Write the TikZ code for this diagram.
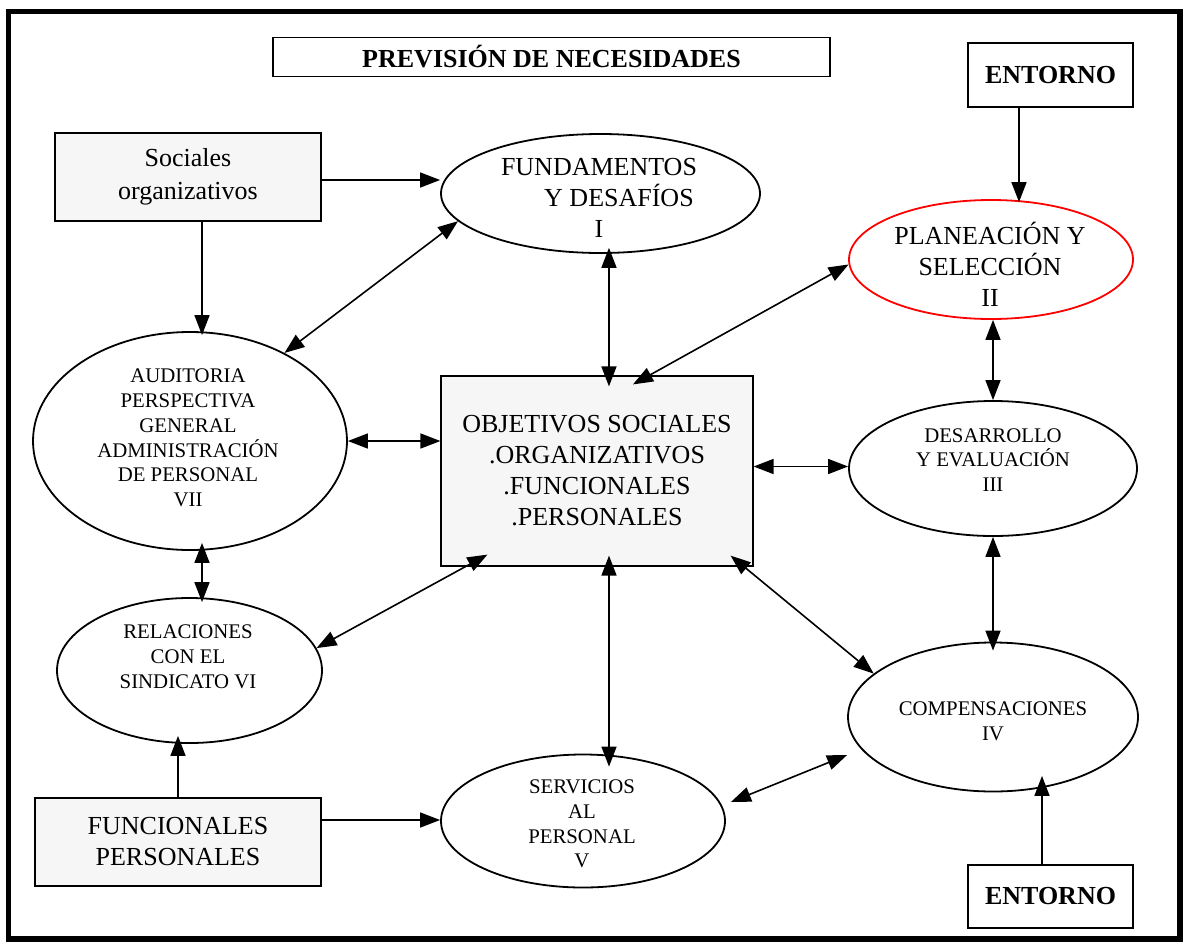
\documentclass[tikz,border=0pt]{standalone}
\usepackage{fontspec}
\setmainfont{Liberation Serif}
\usetikzlibrary{shapes.geometric,arrows.meta,calc}

\tikzset{
  box/.style={draw, line width=1.2pt, inner sep=0pt, align=center},
  grey box/.style={box, fill=gray!7},
  oval/.style={ellipse, draw, line width=1.8pt, inner sep=0pt},
  ovaltext/.style={align=center, inner sep=0pt},
  big/.style={font=\fontsize{26}{31}\selectfont},
  small/.style={font=\fontsize{20.8}{24.8}\selectfont},
  link/.style={line width=1.6pt},
  tip/.tip={Triangle[length=20pt,width=15pt]},
  uni/.style={link, -tip},
  bi/.style={link, tip-tip}
}

\begin{document}
\begin{tikzpicture}[x=1pt, y=-1pt]
\useasboundingbox (0,0) rectangle (1186,943);

% outer frame
\draw[line width=5.5pt] (8.5,11.5) rectangle (1180,939);

% rectangular boxes
\node[box, big, minimum width=557pt, minimum height=39pt] (title) at (551.5,57)
  {\bfseries PREVISIÓN DE NECESIDADES};
\node[box, big, minimum width=165pt, minimum height=64pt] (entA) at (1050.5,75)
  {\bfseries ENTORNO};
\node[box, big, minimum width=165pt, minimum height=63pt] (entB) at (1050.5,896.5)
  {\bfseries ENTORNO};
\node[grey box, big, minimum width=266pt, minimum height=88pt] (soc) at (188,177)
  {Sociales\\[2pt]organizativos};
\node[grey box, big, minimum width=286pt, minimum height=88pt] (fun) at (178,842)
  {FUNCIONALES\\PERSONALES};
\node[grey box, big, minimum width=312pt, minimum height=190pt] (obj) at (597,471)
  {OBJETIVOS SOCIALES\\.ORGANIZATIVOS\\.FUNCIONALES\\.PERSONALES};

% elliptical stages
\node[oval, minimum width=319pt, minimum height=119pt] (fund) at (600.5,193.5) {};
\node[oval, draw=red, minimum width=284pt, minimum height=119pt] (plan) at (991,259.5) {};
\node[oval, minimum width=288pt, minimum height=135pt] (desa) at (993,468.5) {};
\node[oval, minimum width=290pt, minimum height=149pt] (comp) at (993,717) {};
\node[oval, minimum width=284pt, minimum height=133pt] (serv) at (583,821) {};
\node[oval, minimum width=314pt, minimum height=218pt] (aud) at (190,441) {};
\node[oval, minimum width=265pt, minimum height=145pt] (rel) at (189.5,670.5) {};

% stage labels
\node[ovaltext, big] (fundT) at (599,198) {FUNDAMENTOS\\\hspace*{40pt}Y DESAFÍOS\\I};
\node[ovaltext, big] (planT) at (990,264) {PLANEACIÓN Y\\SELECCIÓN\\II};
\node[ovaltext, small] (desaT) at (993,460) {DESARROLLO\\Y EVALUACIÓN\\III};
\node[ovaltext, small] (compT) at (993,721) {COMPENSACIONES\\IV};
\node[ovaltext, small] (servT) at (582,824) {SERVICIOS\\AL\\PERSONAL\\V};
\node[ovaltext, small] (audT) at (188,438) {AUDITORIA\\PERSPECTIVA\\GENERAL\\ADMINISTRACIÓN\\DE PERSONAL\\VII};
\node[ovaltext, small] (relT) at (188,657) {RELACIONES\\CON EL\\SINDICATO VI};

% connectors
\draw[uni] ([yshift=-3pt]soc.east) -- ([yshift=-3pt]soc.east -| fund.west);
\draw[uni] ([xshift=14pt]soc.south) -- ([xshift=14pt,yshift=-4pt]soc.south |- aud.north);
\draw[bi] (fund.191) -- (aud.43);
\draw[bi] ([yshift=6pt]fund.278) -- ([yshift=-11pt]obj.north -| fund.278);
\draw[bi] (plan.182) -- ([xshift=36pt,yshift=-9pt]obj.north);
\draw[uni] ([xshift=-31.5pt]entA.south) -- ([xshift=-31.5pt,yshift=-3pt]entA.south |- plan.north);
\draw[bi] (desa.north |- plan.south) -- (desa.north);
\draw[bi] ([yshift=4.5pt]obj.east) -- ([yshift=4.5pt]obj.east -| desa.west);
\draw[bi] (desa.south) -- ([yshift=-9pt]comp.north);
\draw[bi] ([xshift=-23pt,yshift=11pt]obj.south east) -- (comp.160);
\draw[bi] ([yshift=-38pt]comp.west) -- ([xshift=5pt,yshift=19pt]serv.east);
\draw[uni] ([xshift=-8.5pt]entB.north) -- ([xshift=-8.5pt,yshift=16.5pt]entB.north |- comp.south);
\draw[bi] ([xshift=12pt,yshift=11pt]obj.south) -- ([xshift=12pt,yshift=-13pt]obj.south |- serv.north);
\draw[bi] ([xshift=47pt,yshift=12pt]obj.south west) -- (rel.10);
\draw[bi] (aud.east) -- (aud.east -| obj.west);
\draw[bi] ([xshift=12pt,yshift=8pt]aud.south) -- ([xshift=12pt,yshift=-5pt]aud.south |- rel.north);
\draw[uni] (fun.north) -- ([yshift=8pt]fun.north |- rel.south);
\draw[uni] ([yshift=22pt]fun.east) -- ([yshift=22pt]fun.east -| serv.west);
\end{tikzpicture}
\end{document}
